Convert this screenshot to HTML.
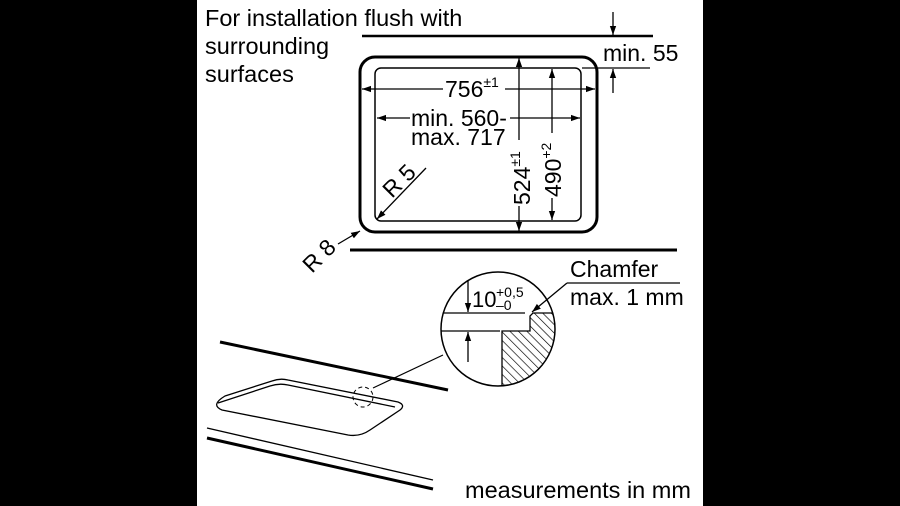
<!DOCTYPE html>
<html><head><style>
html,body{margin:0;padding:0;background:#000;}
svg{display:block;}
text{font-family:"Liberation Sans",sans-serif;fill:#000;}
</style></head><body>
<svg width="900" height="506" viewBox="0 0 900 506" xmlns="http://www.w3.org/2000/svg">
<defs>
<marker id="a" viewBox="0 0 10 10" refX="10" refY="5" markerWidth="9" markerHeight="9" orient="auto-start-reverse" markerUnits="userSpaceOnUse"><path d="M0,1.5 L10,5 L0,8.5 Z" fill="#000"/></marker>
<pattern id="h" width="6" height="6" patternUnits="userSpaceOnUse" patternTransform="rotate(-45)"><rect width="6" height="6" fill="#fff"/><line x1="0" y1="0" x2="0" y2="6" stroke="#000" stroke-width="1.3"/></pattern>
<clipPath id="c"><circle cx="498" cy="329" r="57"/></clipPath>
</defs>
<rect x="197" y="0" width="506" height="506" fill="#fff"/>
<g font-size="23.5">
<text x="205" y="26">For installation flush with</text>
<text x="205" y="54">surrounding</text>
<text x="205" y="82">surfaces</text>
</g>
<line x1="362" y1="36" x2="653" y2="36" stroke="#000" stroke-width="2.5"/>
<line x1="613" y1="12" x2="613" y2="35" stroke="#000" stroke-width="1.3" marker-end="url(#a)"/>
<line x1="582" y1="68" x2="650" y2="68" stroke="#000" stroke-width="1.3"/>
<line x1="613" y1="93" x2="613" y2="69" stroke="#000" stroke-width="1.3" marker-end="url(#a)"/>
<text x="603" y="61" font-size="23">min. 55</text>
<rect x="360" y="57" width="237" height="175" rx="15" fill="none" stroke="#000" stroke-width="3"/>
<rect x="375" y="68" width="206" height="153" rx="6" fill="none" stroke="#000" stroke-width="1.5"/>
<line x1="362" y1="89" x2="443" y2="89" stroke="#000" stroke-width="1.3" marker-start="url(#a)"/>
<line x1="505" y1="89" x2="595" y2="89" stroke="#000" stroke-width="1.3" marker-end="url(#a)"/>
<text x="445" y="97" font-size="23">756<tspan font-size="14" dy="-10">±1</tspan></text>
<line x1="377" y1="118" x2="410" y2="118" stroke="#000" stroke-width="1.3" marker-start="url(#a)"/>
<line x1="510" y1="118" x2="580" y2="118" stroke="#000" stroke-width="1.3" marker-end="url(#a)"/>
<text x="411" y="126" font-size="23">min. 560-</text>
<text x="411" y="145" font-size="23">max. 717</text>
<line x1="519" y1="58" x2="519" y2="140" stroke="#000" stroke-width="1.3" marker-start="url(#a)"/>
<line x1="519" y1="206" x2="519" y2="231" stroke="#000" stroke-width="1.3" marker-end="url(#a)"/>
<text transform="translate(530,205) rotate(-90)" font-size="23">524<tspan font-size="14" dy="-10">±1</tspan></text>
<line x1="552" y1="69" x2="552" y2="133" stroke="#000" stroke-width="1.3" marker-start="url(#a)"/>
<line x1="552" y1="198" x2="552" y2="220" stroke="#000" stroke-width="1.3" marker-end="url(#a)"/>
<text transform="translate(561,197) rotate(-90)" font-size="23">490<tspan font-size="14" dy="-10">+2</tspan></text>
<line x1="426" y1="168" x2="377" y2="219" stroke="#000" stroke-width="1.3" marker-end="url(#a)"/>
<text transform="translate(392,199) rotate(-45)" font-size="23">R 5</text>
<line x1="338" y1="244" x2="360" y2="231" stroke="#000" stroke-width="1.3" marker-end="url(#a)"/>
<text transform="translate(312,274) rotate(-45)" font-size="23">R 8</text>
<line x1="350" y1="250" x2="677" y2="250" stroke="#000" stroke-width="3"/>
<text x="570" y="277" font-size="23">Chamfer</text>
<text x="570" y="305" font-size="23">max. 1 mm</text>
<line x1="567" y1="283" x2="680" y2="283" stroke="#000" stroke-width="1.3"/>
<line x1="567" y1="283" x2="532" y2="312" stroke="#000" stroke-width="1.3" marker-end="url(#a)"/>
<g clip-path="url(#c)">
<path d="M502,390 L502,331 L530,331 L530,316 L533,313 L560,313 L560,390 Z" fill="url(#h)" stroke="#000" stroke-width="1.3"/>
<line x1="441" y1="313" x2="525" y2="313" stroke="#000" stroke-width="1.3"/>
<line x1="441" y1="331" x2="500" y2="331" stroke="#000" stroke-width="1.3"/>
</g>
<circle cx="498" cy="329" r="57" fill="none" stroke="#000" stroke-width="1.5"/>
<line x1="468" y1="280" x2="468" y2="312" stroke="#000" stroke-width="1.3" marker-end="url(#a)"/>
<line x1="468" y1="362" x2="468" y2="332" stroke="#000" stroke-width="1.3" marker-end="url(#a)"/>
<text x="472" y="307" font-size="22">10</text>
<text x="496" y="297" font-size="14">+0,5</text>
<text x="496" y="310" font-size="14">–0</text>
<line x1="443" y1="355" x2="373" y2="388" stroke="#000" stroke-width="1.2"/>
<circle cx="363" cy="397" r="10" fill="none" stroke="#000" stroke-width="1" stroke-dasharray="4,3"/>
<line x1="220" y1="342" x2="448" y2="390" stroke="#000" stroke-width="3"/>
<path d="M225,396 L272,381 Q280,378 288,380 L398,402 Q406,405 400,410 L370,430 Q360,437 348,435 L222,410 Q210,405 225,396 Z" fill="none" stroke="#000" stroke-width="1.3"/>
<path d="M218,403 L270,386 Q279,383 288,385 L395,407" fill="none" stroke="#000" stroke-width="1.3"/>
<line x1="207" y1="428" x2="433" y2="480" stroke="#000" stroke-width="1.3"/>
<line x1="207" y1="438" x2="433" y2="489" stroke="#000" stroke-width="3"/>
<text x="465" y="498" font-size="23.5">measurements in mm</text>
</svg>
</body></html>
